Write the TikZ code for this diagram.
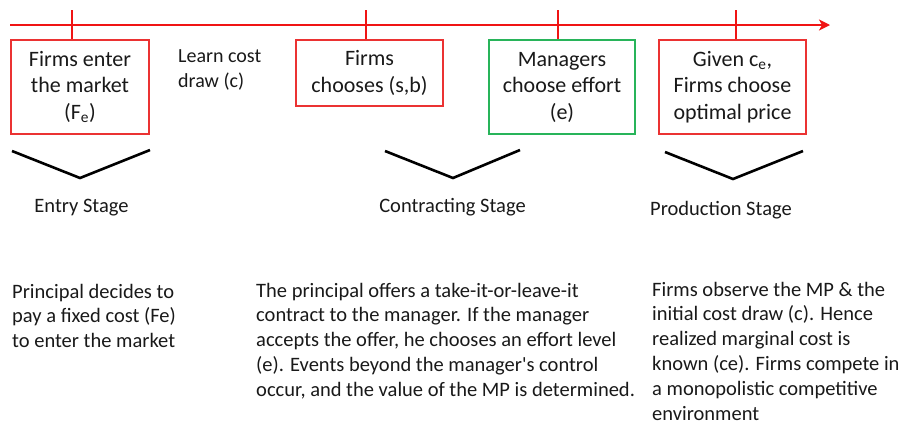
\documentclass[tikz,border=0pt]{standalone}
\usepackage{fontspec}
\setmainfont{Carlito}
\usetikzlibrary{arrows.meta}
\definecolor{tlred}{RGB}{240,20,20}
\definecolor{boxred}{RGB}{235,50,50}
\definecolor{boxgreen}{RGB}{40,180,90}
\definecolor{ink}{RGB}{25,25,25}
\tikzset{
  evbox/.style={draw=boxred, line width=1.2pt, minimum width=#1, text=ink, align=center, inner sep=0pt,
    font=\fontsize{22}{26.5}\selectfont},
  evbox/.default=138pt,
  tick/.style={draw=tlred, line width=1.2pt},
  chev/.style={draw=black, line width=2.6pt, line join=miter},
  stagelbl/.style={text=ink, anchor=base, inner sep=0pt, font=\fontsize{20.5}{25}\selectfont},
  desc/.style={text=ink, anchor=base west, align=left, inner sep=0pt, font=\fontsize{20.5}{24.8}\selectfont},
}
\begin{document}
\begin{tikzpicture}[x=1pt,y=-1pt]
\useasboundingbox (0,0) rectangle (901,424);
% timeline
\coordinate (tstart) at (10,25);
\coordinate (tend) at (830,25);
\draw[draw=tlred, line width=2pt, -{Stealth[length=11pt,width=11pt,inset=3pt]}] (tstart) -- (tend);
% boxes
\node[evbox=138pt, minimum height=94pt] (b1) at (80,87) {Firms enter\\the market\\(F\textsubscript{e})};
\node[evbox=147pt, minimum height=66pt] (b2) at (369.5,73) {Firms\\chooses (s,b)};
\node[evbox=146pt, minimum height=94pt, draw=boxgreen] (b3) at (562,87) {Managers\\choose effort\\(e)};
\node[evbox=147pt, minimum height=94pt] (b4) at (732.5,87) {Given c\textsubscript{e},\\Firms choose\\optimal price};
% ticks
\coordinate (k1) at (72,10);
\coordinate (k2) at (366,10);
\coordinate (k3) at (558,10);
\coordinate (k4) at (736,10);
\draw[tick] (k1) -- (k1 |- b1.north);
\draw[tick] (k2) -- (k2 |- b2.north);
\draw[tick] (k3) -- (k3 |- b3.north);
\draw[tick] (k4) -- (k4 |- b4.north);
% learn cost (anchor = baseline of last line)
\node[desc, font=\fontsize{20}{25}\selectfont] (learn) at (178,87) {Learn cost\\draw (c)};
% chevrons
\draw[chev] (12,151) -- (80,178) -- (150,150);
\draw[chev] (385,151) -- (453,178) -- (520,150);
\draw[chev] (665,152) -- (733,179) -- (803,151);
% stage labels
\node[stagelbl] (s1) at (81.5,212) {Entry Stage};
\node[stagelbl] (s2) at (452.5,212) {Contracting Stage};
\node[stagelbl] (s3) at (721,215) {Production Stage};
% descriptions (anchor = baseline of last line)
\node[desc] (d1) at (12,347.6) {Principal decides to\\pay a fixed cost (Fe)\\to enter the market};
\node[desc] (d2) at (256,396.2) {The principal offers a take-it-or-leave-it\\contract to the manager. If the manager\\accepts the offer, he chooses an effort level\\(e). Events beyond the manager\textquotesingle s control\\occur, and the value of the MP is determined.};
\node[desc] (d3) at (652,420) {Firms observe the MP \& the\\initial cost draw (c). Hence\\realized marginal cost is\\known (ce). Firms compete in\\a monopolistic competitive\\environment};
\end{tikzpicture}
\end{document}
